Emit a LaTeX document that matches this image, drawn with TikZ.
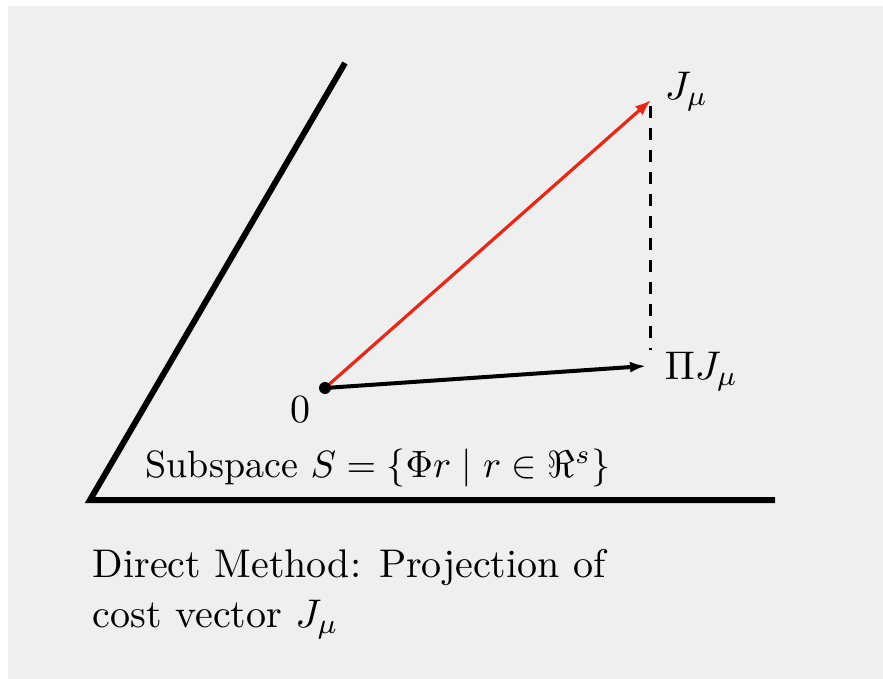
\documentclass[tikz,border=0pt]{standalone}
\usepackage{amsmath,amssymb}
\usepackage{tikz}
\usetikzlibrary{arrows.meta}
\definecolor{bggray}{RGB}{239,239,239}
\definecolor{vecred}{RGB}{232,40,22}
\tikzset{
  subline/.style={line width=3pt,black},
  lbl/.style={font=\fontsize{10}{12.5}\selectfont,scale=2,inner sep=0pt}
}
\begin{document}
\begin{tikzpicture}[x=0.5pt,y=-0.5pt]
  % Background
  \fill[white] (0,0) rectangle (883,679);
  \fill[bggray] (8,6) rectangle (883,679);
  \useasboundingbox (0,0) rectangle (883,679);

  % Coordinates
  \coordinate (C) at (90,500);
  \coordinate (T) at (345,63);
  \coordinate (R) at (775,500);
  \coordinate (O) at (325,388);
  \coordinate (J) at (651,100);
  \coordinate (P) at (646,366);
  \coordinate (Jd) at (650,106);
  \coordinate (Pd) at (650,350);

  % Subspace
  \draw[subline] (T)--(C)--(R);
  \node[lbl,scale=0.95] (sub) at (378,468) {Subspace $S=\{\Phi r\mid r\in\Re^s\}$};

  % Vectors
  \draw[dashed,line width=1.5pt,dash pattern=on 6pt off 5pt] (Jd)--(Pd);
  \draw[vecred,line width=1.6pt,-{Latex[length=8pt,width=6pt]}] (O)--(J);
  \draw[line width=2pt,-{Latex[length=8pt,width=5.5pt]}] (O)--(P);
  \fill[black] (O) circle (3pt);

  % Labels
  \node[lbl] (zero) at (300,410) {$0$};
  \node[lbl,anchor=west] (jmu) at (664,92) {$J_\mu$};
  \node[lbl,anchor=west] (pijmu) at (664,372) {$\Pi J_\mu$};
  \node[lbl,anchor=north west,align=left] (cap) at (92,548)
    {Direct Method: Projection of\\cost vector $J_\mu$};
\end{tikzpicture}
\end{document}
